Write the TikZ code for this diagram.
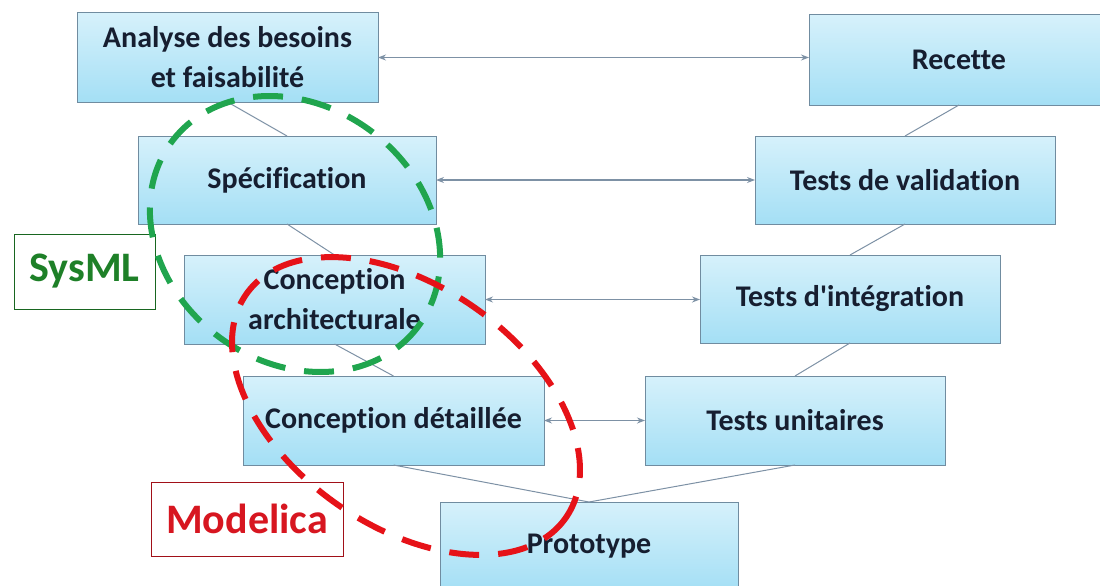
\documentclass[tikz,border=0pt]{standalone}
\usepackage{fontspec}
\setmainfont{Carlito}[Ligatures={TeXOff,NoCommon}]
\usetikzlibrary{arrows.meta}
\definecolor{stagetop}{RGB}{214,241,251}
\definecolor{stagebot}{RGB}{164,223,245}
\definecolor{stageline}{RGB}{112,140,160}
\definecolor{stagetext}{RGB}{22,30,48}
\definecolor{linkgray}{RGB}{125,145,165}
\definecolor{sysgreen}{RGB}{30,128,40}
\definecolor{ringgreen}{RGB}{32,165,78}
\definecolor{modred}{RGB}{215,22,32}
\definecolor{ringred}{RGB}{230,18,24}

\begin{document}
\begin{tikzpicture}[x=1pt,y=-1pt,inner sep=0pt,outer sep=0pt,
vstage/.style={draw=stageline,rectangle,top color=stagetop,bottom color=stagebot,line width=1pt,minimum width=300pt,minimum height=89pt,align=center,text=stagetext,font=\fontsize{30}{40}\selectfont\bfseries},
langbox/.style={draw,rectangle,fill=white,line width=1pt,font=\fontsize{42}{50}\selectfont\bfseries},
vlink/.style={draw=linkgray,line width=1pt},
tracelink/.style={draw=linkgray,line width=1.2pt,{Stealth[length=8pt,width=6pt]}-{Stealth[length=8pt,width=6pt]}},
ring/.style={line width=6pt,dash pattern=on 30pt off 19pt}]
\useasboundingbox (0,0) rectangle (1100,586);
\draw (227.5,57.5) node[vstage,minimum width=301pt] (ana) {Analyse des besoins\\et faisabilité};
\draw (959,60) node[vstage,minimum height=90pt] (rec) {Recette};
\draw (287,180) node[vstage,minimum width=298pt,minimum height=88pt] (spe) {Spécification};
\draw (905,180) node[vstage,minimum height=88pt] (val) {Tests de validation};
\draw (334.5,299.5) node[vstage,minimum width=301pt] (arc) {Conception\\architecturale};
\draw (850,299) node[vstage,minimum height=88pt] (int) {Tests d'intégration};
\draw (393.5,420.5) node[vstage,minimum width=301pt] (det) {Conception détaillée};
\draw (795,420.5) node[vstage] (uni) {Tests unitaires};
\draw (589,546.5) node[vstage,minimum width=298pt] (pro) {Prototype};
\draw (84.5,271.5) node[langbox,draw=sysgreen!80!black,text=sysgreen,minimum width=141pt,minimum height=75pt] (sys) {SysML};
\draw (247,519) node[langbox,draw=modred!75!black,text=modred,minimum width=192pt,minimum height=74pt] (mod) {Modelica};
\draw[vlink] (ana.south) -- (spe.north);
\draw[vlink] (spe.south) -- (arc.north);
\draw[vlink] (arc.south) -- (det.north);
\draw[vlink] (det.south) -- (pro.north);
\draw[vlink] (pro.north) -- (uni.south);
\draw[vlink] (uni.north) -- (int.south);
\draw[vlink] (int.north) -- (val.south);
\draw[vlink] (val.north) -- (rec.south);
\draw[tracelink] (ana.east) -- (ana.east -| rec.west);
\draw[tracelink] (spe.east) -- (val.west);
\draw[tracelink] (arc.east) -- (arc.east -| int.west);
\draw[tracelink] (det.east) -- (det.east -| uni.west);
\draw[ring,ringgreen,rotate around={-37:(295,234)}] (295,234) ellipse [x radius=154,y radius=128];
\draw[ring,ringred,rotate around={-35:(406,406)}] (406,406) ellipse [x radius=195,y radius=120];
\end{tikzpicture}
\end{document}
